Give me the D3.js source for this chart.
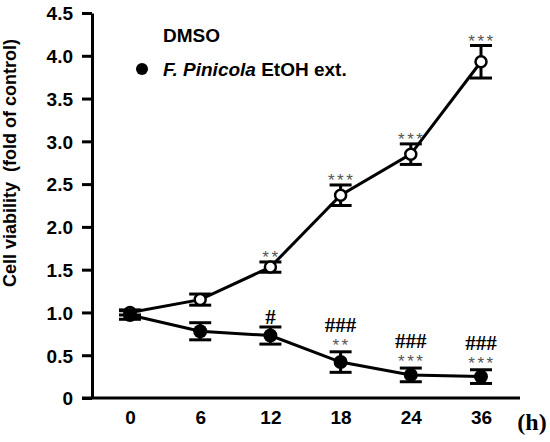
<!DOCTYPE html>
<html>
<head>
<meta charset="utf-8">
<script src="https://cdn.jsdelivr.net/npm/d3@7"></script>
<style>
  body { margin: 0; background: #fff; }
</style>
</head>
<body>
<script>
// data
const timeLabels = ['0', '6', '12', '18', '24', '36']
const dmsoMean = [1.0, 1.15, 1.53, 2.37, 2.85, 3.93]
const dmsoErr = [0.03, 0.065, 0.06, 0.12, 0.12, 0.19]
const fpMean = [0.97, 0.78, 0.73, 0.42, 0.27, 0.25]
const fpErr = [0.05, 0.1, 0.1, 0.12, 0.08, 0.08]
const dmsoStars = ['', '', '**', '***', '***', '***']
const fpStars = ['', '', '', '**', '***', '***']
const fpHash = ['', '', '#', '###', '###', '###']
const yTicks = [0, 0.5, 1.0, 1.5, 2.0, 2.5, 3.0, 3.5, 4.0, 4.5]

const svgw = 550
const svgh = 442
const sans = '"Liberation Sans", Arial, sans-serif'
const serif = '"Liberation Serif", "Times New Roman", serif'

const svg = d3.select('body').append('svg')
	.attr('width', svgw).attr('height', svgh)
	.attr('font-family', sans)

const x = d3.scalePoint()
	.domain(timeLabels)
	.range([130, 481])

const y = d3.scaleLinear()
	.domain([0, 4.5])
	.range([398, 13])

// y axis
const yAxis = d3.axisLeft(y)
	.tickValues(yTicks)
	.tickSize(10)
	.tickSizeOuter(0)
	.tickPadding(9)
	.tickFormat(d => d === 0 ? '0' : d3.format('.1f')(d))

const gy = svg.append('g')
	.attr('transform', 'translate(92,0)')
	.call(yAxis)
	.attr('font-family', sans)
gy.selectAll('path, line').attr('stroke', '#000').attr('stroke-width', 3)
gy.selectAll('text')
	.attr('font-size', 19).attr('font-weight', 'bold').attr('fill', '#000')
	.attr('dy', '0.36em')

// x axis (labels only, baseline drawn separately)
const xAxis = d3.axisBottom(x).tickSize(0).tickPadding(13)
const gx = svg.append('g')
	.attr('transform', 'translate(0,398)')
	.call(xAxis)
	.attr('font-family', sans)
gx.select('.domain').remove()
gx.selectAll('text')
	.attr('font-size', 19).attr('font-weight', 'bold').attr('fill', '#000')

svg.append('line')
	.attr('x1', 82).attr('x2', 520)
	.attr('y1', y(0)).attr('y2', y(0))
	.attr('stroke', '#000').attr('stroke-width', 3)

svg.append('text')
	.attr('x', 532).attr('y', 430)
	.attr('text-anchor', 'middle')
	.attr('font-family', serif)
	.attr('font-weight', 'bold').attr('font-size', 24)
	.text('(h)')

svg.append('text')
	.attr('transform', 'translate(16,163) rotate(-90)')
	.attr('text-anchor', 'middle')
	.attr('font-weight', 'bold').attr('font-size', 18)
	.style('white-space', 'pre')
	.text('Cell viability  (fold of control)')

// lines
const line = d3.line()
	.x((d, i) => x(timeLabels[i]))
	.y(d => y(d))

svg.append('path').datum(dmsoMean)
	.attr('d', line).attr('fill', 'none').attr('stroke', '#000').attr('stroke-width', 3)
svg.append('path').datum(fpMean)
	.attr('d', line).attr('fill', 'none').attr('stroke', '#000').attr('stroke-width', 3)

// error bars
function errorBars(means, errs) {
	const g = svg.append('g').attr('stroke', '#000').attr('stroke-width', 3)
	means.forEach((m, i) => {
		const cx = x(timeLabels[i])
		g.append('line').attr('x1', cx).attr('x2', cx).attr('y1', y(m - errs[i])).attr('y2', y(m + errs[i]))
		g.append('line').attr('x1', cx - 11).attr('x2', cx + 11).attr('y1', y(m - errs[i])).attr('y2', y(m - errs[i]))
		g.append('line').attr('x1', cx - 11).attr('x2', cx + 11).attr('y1', y(m + errs[i])).attr('y2', y(m + errs[i]))
	})
}
errorBars(dmsoMean, dmsoErr)
errorBars(fpMean, fpErr)

// markers
svg.selectAll('.dmso')
	.data(dmsoMean)
	.enter()
	.append('circle')
	.attr('cx', (d, i) => x(timeLabels[i]))
	.attr('cy', d => y(d))
	.attr('r', 5.5)
	.attr('fill', '#fff').attr('stroke', '#000').attr('stroke-width', 2.5)

svg.selectAll('.fp')
	.data(fpMean)
	.enter()
	.append('circle')
	.attr('cx', (d, i) => x(timeLabels[i]))
	.attr('cy', d => y(d))
	.attr('r', 7)
	.attr('fill', '#000')

// significance marks
function marks(means, errs, labels, offset, opts) {
	svg.append('g').selectAll('text')
		.data(labels)
		.enter()
		.append('text')
		.attr('x', (d, i) => x(timeLabels[i]) + (opts.shift || 0))
		.attr('y', (d, i) => y(means[i] + errs[i]) - offset)
		.attr('text-anchor', 'middle')
		.attr('font-family', opts.family)
		.attr('font-size', opts.size)
		.attr('font-weight', opts.weight)
		.attr('letter-spacing', opts.spacing || 0)
		.attr('fill', opts.color)
		.text(d => d)
}
const starStyle = { family: sans, size: 17, weight: 'normal', color: '#555', spacing: 2.5, shift: 1 }
const hashStyle = { family: serif, size: 21, weight: 'bold', color: '#000' }
marks(dmsoMean, dmsoErr, dmsoStars, -1, starStyle)
marks(fpMean, fpErr, fpStars, 1, starStyle)
marks(fpMean, fpErr, fpHash.map((d, i) => i === 2 ? d : ''), 3, hashStyle)
marks(fpMean, fpErr, fpHash.map((d, i) => i === 2 ? '' : d), 20, hashStyle)

// legend
svg.append('text')
	.attr('x', 163).attr('y', 42)
	.attr('font-weight', 'bold').attr('font-size', 19)
	.text('DMSO')

svg.append('circle')
	.attr('cx', 142).attr('cy', 69).attr('r', 6).attr('fill', '#000')

const leg = svg.append('text')
	.attr('x', 163).attr('y', 76)
	.attr('font-weight', 'bold').attr('font-size', 19)
	.style('white-space', 'pre')
leg.append('tspan').attr('font-style', 'italic').text('F. Pinicola')
leg.append('tspan').text(' EtOH ext.')
</script>
</body>
</html>
